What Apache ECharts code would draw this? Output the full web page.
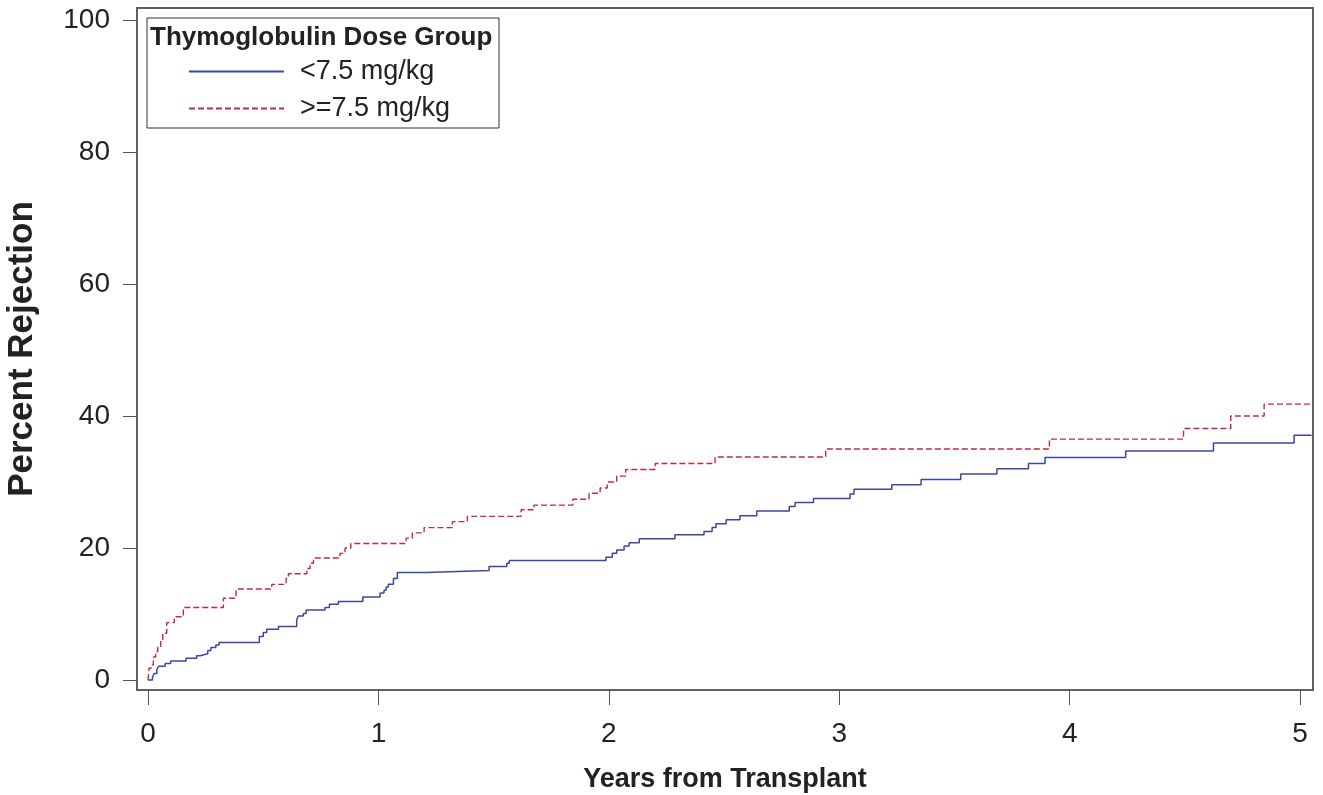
<!DOCTYPE html>
<html>
<head>
<meta charset="utf-8">
<script src="https://cdn.jsdelivr.net/npm/echarts@6/dist/echarts.min.js"></script>
<style>
  html, body { margin: 0; padding: 0; background: #fff; }
  #chart { width: 1323px; height: 795px; }
</style>
</head>
<body>
<div id="chart"></div>
<script>
// step points: [years, percent] = value after the jump at that time
const lowDose = [
  [0, 0], [0.019, 0.4], [0.026, 1.0], [0.038, 1.6], [0.045, 2.1], [0.074, 2.5],
  [0.098, 2.9], [0.165, 3.3], [0.211, 3.7], [0.226, 4.0], [0.259, 4.5], [0.273, 4.95],
  [0.294, 5.3], [0.308, 5.7], [0.483, 6.6], [0.500, 7.2], [0.515, 7.7], [0.566, 8.1],
  [0.645, 9.1], [0.652, 9.7], [0.674, 10.1], [0.686, 10.6], [0.768, 11.0], [0.787, 11.5],
  [0.826, 11.9], [0.932, 12.6], [1.007, 13.2], [1.024, 13.6], [1.033, 14.1], [1.043, 14.5],
  [1.065, 15.4], [1.082, 16.3], [1.205, 16.6], [1.480, 17.2], [1.557, 17.7], [1.568, 18.1],
  [1.987, 18.6], [2.015, 19.2], [2.034, 19.7], [2.066, 20.3], [2.088, 20.8], [2.132, 21.4],
  [2.287, 22.0], [2.413, 22.5], [2.448, 23.1], [2.465, 23.7], [2.509, 24.3], [2.569, 24.9],
  [2.642, 25.6], [2.783, 26.3], [2.808, 26.9], [2.888, 27.5], [3.047, 28.2], [3.064, 28.9],
  [3.228, 29.6], [3.355, 30.4], [3.527, 31.2], [3.684, 32.0], [3.821, 32.8], [3.893, 33.7],
  [4.243, 34.7], [4.624, 35.9], [4.974, 37.1], [5.05, 37.1]
];
const highDose = [
  [0, 0], [0.004, 1.8], [0.013, 2.3], [0.023, 3.5], [0.033, 4.3], [0.042, 5.0],
  [0.055, 6.1], [0.064, 7.1], [0.081, 8.7], [0.114, 9.6], [0.153, 11.0], [0.327, 12.4],
  [0.382, 13.8], [0.537, 14.5], [0.599, 15.4], [0.609, 16.1], [0.689, 16.9], [0.703, 17.7],
  [0.718, 18.5], [0.833, 19.2], [0.855, 20.0], [0.880, 20.7], [1.120, 21.5], [1.147, 22.3],
  [1.198, 23.1], [1.321, 24.0], [1.386, 24.8], [1.619, 25.8], [1.675, 26.5], [1.843, 27.4],
  [1.914, 28.3], [1.962, 29.1], [1.993, 30.0], [2.034, 30.9], [2.073, 31.9], [2.201, 32.8],
  [2.461, 33.8], [2.941, 35.0], [3.912, 36.5], [4.494, 38.1], [4.699, 40.0], [4.844, 41.8],
  [5.05, 41.8]
];
const seriesNames = ['<7.5 mg/kg', '>=7.5 mg/kg'];
const xTicks = [0, 1, 2, 3, 4, 5];
const yTicks = [0, 20, 40, 60, 80, 100];

const font = 'Liberation Sans, Arial, sans-serif';
const chart = echarts.init(document.getElementById('chart'));

chart.setOption({
  animation: false,
  backgroundColor: '#fff',
  grid: {
    left: 137, right: 10, top: 8, bottom: 105,
    outerBoundsMode: 'none',
    show: true, borderColor: '#606060', borderWidth: 2
  },
  title: {
    text: 'Thymoglobulin Dose Group',
    left: 150, top: 25,
    padding: 0,
    textStyle: { fontFamily: font, fontSize: 26, fontWeight: 'bold', color: '#222', lineHeight: 26 }
  },
  legend: {
    orient: 'vertical',
    left: 188, top: 58,
    padding: 0,
    itemWidth: 95, itemHeight: 14, itemGap: 10,
    itemStyle: { opacity: 0 },
    textStyle: { fontFamily: font, fontSize: 27, color: '#222', lineHeight: 27, padding: [0, 0, 0, 11] },
    data: seriesNames
  },
  graphic: [{
    type: 'rect',
    shape: { x: 147, y: 18, width: 352, height: 110 },
    style: { fill: 'none', stroke: '#333', lineWidth: 1 },
    z: 10
  }],
  xAxis: {
    type: 'value',
    min: -0.048, max: 5.056,
    name: 'Years from Transplant',
    nameLocation: 'middle',
    nameGap: 76,
    nameTextStyle: { fontFamily: font, fontSize: 27, fontWeight: 'bold', color: '#222' },
    axisLine: { show: false, onZero: false },
    splitLine: { show: false },
    axisTick: { show: true, length: 15, customValues: xTicks, lineStyle: { color: '#555', width: 1 } },
    axisLabel: { customValues: xTicks, margin: 30, fontFamily: font, fontSize: 28, color: '#222' }
  },
  yAxis: {
    type: 'value',
    min: -1.5, max: 101.8,
    name: 'Percent Rejection',
    nameLocation: 'middle',
    nameGap: 97,
    nameTextStyle: { fontFamily: font, fontSize: 35, fontWeight: 'bold', color: '#222' },
    axisLine: { show: false, onZero: false },
    splitLine: { show: false },
    axisTick: { show: true, length: 14, customValues: yTicks, lineStyle: { color: '#555', width: 1 } },
    axisLabel: { customValues: yTicks, margin: 27, fontFamily: font, fontSize: 28, color: '#222' }
  },
  series: [
    {
      name: seriesNames[0],
      type: 'line',
      step: 'end',
      symbol: 'none',
      data: lowDose,
      lineStyle: { color: '#3a47a0', width: 1.5 },
      itemStyle: { color: '#3a47a0' }
    },
    {
      name: seriesNames[1],
      type: 'line',
      step: 'end',
      symbol: 'none',
      data: highDose,
      lineStyle: { color: '#c42a3c', width: 1.4, type: [6, 3] },
      itemStyle: { color: '#c42a3c' }
    }
  ]
});
</script>
</body>
</html>
